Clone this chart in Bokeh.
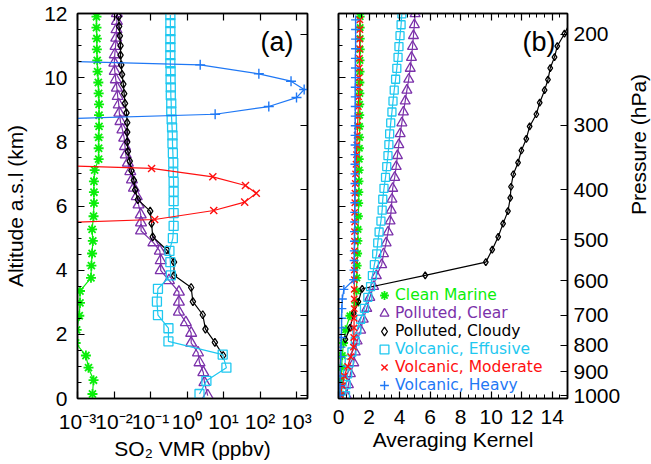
import math
from bokeh.plotting import figure
from bokeh.layouts import row
from bokeh.models import (LinearAxis, LogAxis, FixedTicker, SingleIntervalTicker,
                          CustomJSTickFormatter, Legend, LegendItem, Label)
from bokeh.embed import file_html
from bokeh.resources import INLINE

# ---------------- panel (a): SO2 VMR profiles (ppbv) versus altitude (km) ----------------
alt_clean_marine = [0.14, 0.57, 0.96, 1.34, 1.73, 2.14, 2.58, 2.98, 3.35, 3.76, 4.14, 4.52, 4.91,
                    5.27, 5.68, 6.09, 6.43, 6.77, 7.12, 7.46, 7.80, 8.14, 8.48, 8.83, 9.17, 9.51,
                    9.85, 10.19, 10.54, 10.88, 11.22, 11.56, 11.90]
vmr_clean_marine = [0.00257, 0.00275, 0.0020, 0.0017, 0.00089, 0.00095, 0.00112, 0.00117, 0.00117,
                    0.00234, 0.0024, 0.00251, 0.00263, 0.00251, 0.00275, 0.00282, 0.00282, 0.00282,
                    0.00295, 0.0038, 0.0038, 0.0038, 0.00389, 0.00389, 0.00389, 0.0038, 0.00372,
                    0.00355, 0.00347, 0.00339, 0.00339, 0.00331, 0.00331]

alt_polluted_clear = [0.09, 0.5, 0.81, 1.12, 1.43, 1.73, 2.04, 2.37, 2.7, 3.01, 3.32, 3.68, 3.99,
                      4.3, 4.6, 4.86, 5.23, 5.48, 5.73, 6.04, 6.3, 6.56, 6.82, 7.08, 7.34, 7.6,
                      7.86, 8.12, 8.38, 8.64, 8.9, 9.16, 9.42, 9.68, 9.94, 10.2, 10.46, 10.72,
                      10.98, 11.24, 11.5, 11.76, 12.0]
vmr_polluted_clear = [3.7, 3.0, 2.8, 2.2, 2.0, 1.3, 1.3, 0.93, 0.60, 0.60, 0.60, 0.32, 0.19, 0.19,
                      0.18, 0.12, 0.055, 0.055, 0.054, 0.047, 0.042, 0.035, 0.031, 0.028, 0.024,
                      0.021, 0.020, 0.019, 0.017, 0.015, 0.014, 0.0135, 0.0126, 0.012, 0.0112,
                      0.0105, 0.0102, 0.0105, 0.011, 0.0115, 0.0117, 0.012, 0.012]

alt_polluted_cloudy = [1.34, 1.75, 2.16, 2.61, 3.02, 3.46, 3.84, 4.25, 4.63, 5.04, 5.46, 5.84, 6.2,
                       6.5, 6.8, 7.1, 7.4, 7.7, 8.0, 8.3, 8.6, 8.9, 9.2, 9.5, 9.8, 10.1, 10.4,
                       10.7, 11.0, 11.3, 11.6, 11.9]
vmr_polluted_cloudy = [9.8, 5.8, 3.2, 2.7, 1.45, 1.3, 0.44, 0.44, 0.28, 0.115, 0.107, 0.098, 0.045,
                       0.038, 0.035, 0.030, 0.027, 0.024, 0.023, 0.023, 0.023, 0.022, 0.020, 0.019,
                       0.018, 0.0166, 0.0158, 0.0151, 0.0151, 0.0145, 0.0138, 0.0135]

alt_volcanic_effusive = [0.14, 0.55, 0.96, 1.37, 1.78, 2.19, 2.6, 3.02, 3.42, 3.84, 4.25, 4.6, 5.0,
                         5.38, 5.78, 6.15, 6.45, 6.75, 7.05, 7.35, 7.65, 7.95, 8.2, 8.45, 8.7,
                         8.95, 9.2, 9.45, 9.7, 9.95, 10.2, 10.45, 10.7, 10.95, 11.2, 11.45, 11.7,
                         11.95]
vmr_volcanic_effusive = [2.2, 3.4, 12.0, 9.5, 0.31, 0.31, 0.16, 0.15, 0.16, 0.36, 0.35, 0.33, 0.41,
                         0.43, 0.43, 0.43, 0.43, 0.43, 0.42, 0.42, 0.41, 0.40, 0.40, 0.39, 0.38,
                         0.37, 0.37, 0.36, 0.36, 0.355, 0.355, 0.35, 0.35, 0.35, 0.35, 0.35, 0.35,
                         0.35]

alt_volcanic_moderate = [5.32, 5.58, 5.86, 6.12, 6.4, 6.64, 6.91, 7.17, 7.43]
vmr_volcanic_moderate = [1.5e-8, 0.13, 5.4, 38.0, 79.0, 40.0, 5.1, 0.107, 3e-9]

alt_volcanic_heavy = [8.6, 8.86, 9.1, 9.38, 9.63, 9.89, 10.12, 10.4, 10.66]
vmr_volcanic_heavy = [1.6e-7, 5.9, 174.0, 1000.0, 1620.0, 708.0, 93.0, 2.3, 4e-9]

# ---------------- panel (b): averaging kernels versus altitude (km) ----------------
ak_clean_marine = [0.12, 0.15, 0.2, 0.25, 0.33, 0.46, 0.75, 1.15, 1.18, 1.2, 1.22, 1.25, 1.27, 1.28,
                   1.3, 1.32, 1.33, 1.34, 1.35, 1.36, 1.37, 1.38, 1.38, 1.39, 1.39, 1.40, 1.40,
                   1.41, 1.41, 1.42, 1.42, 1.42, 1.42]

alt_ak_clear_effusive = [0.09, 0.43, 0.77, 1.11, 1.45, 1.79, 2.13, 2.47, 2.81, 3.15, 3.49, 3.83,
                         4.17, 4.51, 4.85, 5.19, 5.53, 5.87, 6.21, 6.55, 6.89, 7.23, 7.57, 7.91,
                         8.25, 8.59, 8.93, 9.27, 9.61, 9.95, 10.29, 10.63, 10.97, 11.31, 11.65, 11.99]
ak_polluted_clear = [0.52, 0.65, 0.78, 1.0, 1.1, 1.22, 1.45, 1.62, 1.85, 2.05, 2.3, 2.48, 2.83,
                     2.95, 3.12, 3.25, 3.38, 3.45, 3.5, 3.55, 3.68, 3.78, 3.86, 3.95, 4.04, 4.15,
                     4.25, 4.37, 4.48, 4.6, 4.7, 4.78, 4.85, 4.91, 4.97, 5.02]
ak_volcanic_effusive = [0.46, 0.5, 0.6, 0.7, 0.88, 1.1, 1.2, 1.45, 1.7, 1.92, 2.1, 2.22, 2.35,
                        2.5, 2.57, 2.66, 2.78, 2.86, 2.9, 2.98, 3.08, 3.16, 3.24, 3.3, 3.35, 3.42,
                        3.5, 3.57, 3.65, 3.74, 3.82, 3.9, 3.96, 4.03, 4.1, 4.15]

alt_ak_polluted_cloudy = [1.84, 2.2, 2.66, 3.02, 3.42, 3.84, 4.25, 4.64, 5.04, 5.45, 5.84, 6.25,
                          6.6, 6.99, 7.35, 7.73, 8.09, 8.48, 8.86, 9.22, 9.61, 9.94, 10.3, 10.64,
                          10.98, 11.37, 11.75, 12.1]
ak_polluted_cloudy = [0.45, 0.75, 1.0, 1.3, 1.55, 5.68, 9.65, 10.07, 10.46, 10.78, 11.1, 11.25,
                      11.3, 11.45, 11.76, 11.98, 12.3, 12.52, 12.96, 13.18, 13.5, 13.72, 13.87,
                      14.15, 14.33, 14.8, 15.2, 15.6]

alt_ak_volcanic = [0.1, 0.4, 0.7, 1.0, 1.3, 1.6, 1.9, 2.2, 2.5, 2.8, 3.1, 3.4, 3.7, 4.0, 4.3, 4.6,
                   4.9, 5.2, 5.5, 5.8, 6.1, 6.4, 6.7, 7.0, 7.3, 7.6, 7.9, 8.2, 8.5, 8.8, 9.1, 9.4,
                   9.7, 10.0, 10.3, 10.6, 10.9, 11.2, 11.5, 11.8]
ak_volcanic_moderate = [0.13, 0.25, 0.38, 0.6, 0.8, 0.98, 1.0, 1.02, 1.02, 1.03, 1.03, 1.03, 1.04,
                        1.04, 1.05, 1.05, 1.05, 1.05, 1.06, 1.06, 1.07, 1.08, 1.1, 1.12, 1.15,
                        1.18, 1.2, 1.22, 1.25, 1.28, 1.3, 1.32, 1.33, 1.35, 1.36, 1.37, 1.38, 1.39,
                        1.4, 1.4]
ak_volcanic_heavy = [0.1, 0.1, 0.12, 0.13, 0.15, 0.16, 0.18, 0.2, 0.2, 0.22, 0.25, 0.35, 1.0,
                     1.02, 1.03, 1.04, 1.05, 1.05, 1.06, 1.06, 1.07, 1.07, 1.08, 1.08, 1.08, 1.09,
                     1.09, 1.09, 1.1, 1.1, 1.1, 1.1, 1.1, 1.11, 1.11, 1.11, 1.12, 1.12, 1.12, 1.12]

# ---------------- axes: tick labels ----------------
vmr_ticks = [1e-3, 1e-2, 1e-1, 1e0, 1e1, 1e2, 1e3]
pressure_ticks_hpa = [200, 300, 400, 500, 600, 700, 800, 900, 1000]
SCALE_HEIGHT_KM = 7.0
SURFACE_P_HPA = 1013.0
pressure_tick_alt = [SCALE_HEIGHT_KM * math.log(SURFACE_P_HPA / p) for p in pressure_ticks_hpa]

series_names = ["Clean Marine", "Polluted, Clear", "Polluted, Cloudy",
                "Volcanic, Effusive", "Volcanic, Moderate", "Volcanic, Heavy"]
colors = ["#0AEE0A", "#7B31AA", "#000000", "#1FC8F0", "#FF1010", "#1F78F5"]
markers = ["asterisk", "triangle", "diamond", "square", "x", "cross"]
marker_widths = [1.8, 1.3, 1.3, 1.3, 1.4, 1.4]

FONT = "Liberation Sans"
LEGEND_FONT = "DejaVu Sans"
TICK_FS = "21px"
LABEL_FS = "21px"


def empty_fmt():
    return CustomJSTickFormatter(code="return '';")


def style_axis(ax, show_labels=True):
    ax.axis_line_color = "black"
    ax.axis_line_width = 1.5
    ax.major_tick_in = 7
    ax.major_tick_out = 0
    ax.minor_tick_in = 4
    ax.minor_tick_out = 0
    ax.major_tick_line_color = "black"
    ax.minor_tick_line_color = "black"
    ax.major_tick_line_width = 1.2
    ax.minor_tick_line_width = 1.0
    ax.major_label_text_font = FONT
    ax.major_label_text_font_size = TICK_FS
    ax.major_label_text_color = "black"
    ax.axis_label_text_font = FONT
    ax.axis_label_text_font_size = LABEL_FS
    ax.axis_label_text_font_style = "normal"
    ax.axis_label_text_color = "black"
    if not show_labels:
        ax.formatter = empty_fmt()
        ax.major_label_text_font_size = "0px"
        ax.major_label_standoff = 0


def style_fig(p):
    p.xgrid.visible = False
    p.ygrid.visible = False
    p.outline_line_color = "black"
    p.outline_line_width = 1.5
    p.background_fill_color = "white"
    p.border_fill_color = "white"


# ---------------- panel (a) ----------------
pa = figure(width=322, height=462, x_axis_type="log", x_range=(1e-3, 2e3), y_range=(0, 12),
            output_backend="svg", toolbar_location=None, title=None,
            min_border_left=77, min_border_right=15, min_border_top=13, min_border_bottom=59)
style_fig(pa)

sup = {"-": "\u207b", "0": "\u2070", "1": "\u00b9", "2": "\u00b2", "3": "\u00b3"}
sup_js = "{" + ",".join("'%s':'%s'" % (k, v) for k, v in sup.items()) + "}"
pow_fmt = CustomJSTickFormatter(code="""
const sup = %s;
const e = Math.round(Math.log10(tick));
return '10' + String(e).split('').map(c => sup[c]).join('');
""" % sup_js)

xa = pa.xaxis[0]
xa.ticker = FixedTicker(ticks=vmr_ticks, minor_ticks=[])
style_axis(xa)
xa.formatter = pow_fmt
xa.axis_label = "SO\u2082 VMR (ppbv)"
xa.major_label_standoff = 11
xa.axis_label_standoff = 1

ya = pa.yaxis[0]
ya.ticker = SingleIntervalTicker(interval=2, num_minor_ticks=4)
style_axis(ya)
ya.axis_label = "Altitude a.s.l (km)"
ya.major_label_standoff = 10
ya.axis_label_standoff = 14

top_a = LogAxis(ticker=FixedTicker(ticks=vmr_ticks, minor_ticks=[]))
style_axis(top_a, show_labels=False)
pa.add_layout(top_a, "above")

right_a = LinearAxis(ticker=FixedTicker(ticks=pressure_tick_alt, minor_ticks=[]))
style_axis(right_a, show_labels=False)
pa.add_layout(right_a, "right")

panel_a = [
    (vmr_clean_marine, alt_clean_marine),
    (vmr_polluted_clear, alt_polluted_clear),
    (vmr_polluted_cloudy, alt_polluted_cloudy),
    (vmr_volcanic_effusive, alt_volcanic_effusive),
    (vmr_volcanic_moderate, alt_volcanic_moderate),
    (vmr_volcanic_heavy, alt_volcanic_heavy),
]
sizes_a = [10, 11, 8, 9, 10, 10]
for (xv, yv), c, m, s, lw in zip(panel_a, colors, markers, sizes_a, marker_widths):
    pa.line(xv, yv, line_color=c, line_width=1.2)
    pa.scatter(xv, yv, marker=m, size=s, fill_color=None, line_color=c, line_width=lw)

pa.add_layout(Label(x=216, y=357, x_units="screen", y_units="screen", text="(a)",
                    text_align="right", text_baseline="alphabetic", text_font=FONT,
                    text_font_size="27px", text_color="black"))

# ---------------- panel (b) ----------------
pb = figure(width=301, height=462, x_range=(0, 15), y_range=(0, 12),
            output_backend="svg", toolbar_location=None, title=None,
            min_border_left=16, min_border_right=55, min_border_top=13, min_border_bottom=59)
style_fig(pb)

xb = pb.xaxis[0]
xb.ticker = SingleIntervalTicker(interval=2, num_minor_ticks=4)
style_axis(xb)
xb.axis_label = "Averaging Kernel"
xb.major_label_standoff = 11
xb.axis_label_standoff = 1

yb = pb.yaxis[0]
yb.ticker = SingleIntervalTicker(interval=2, num_minor_ticks=4)
style_axis(yb, show_labels=False)

top_b = LinearAxis(ticker=SingleIntervalTicker(interval=2, num_minor_ticks=4))
style_axis(top_b, show_labels=False)
pb.add_layout(top_b, "above")

right_b = LinearAxis(ticker=FixedTicker(ticks=pressure_tick_alt, minor_ticks=[]))
style_axis(right_b)
right_b.major_label_overrides = {a: str(p) for a, p in zip(pressure_tick_alt, pressure_ticks_hpa)}
right_b.major_label_standoff = 6
pb.add_layout(right_b, "right")

panel_b = [
    (ak_clean_marine, alt_clean_marine),
    (ak_polluted_clear, alt_ak_clear_effusive),
    (ak_polluted_cloudy, alt_ak_polluted_cloudy),
    (ak_volcanic_effusive, alt_ak_clear_effusive),
    (ak_volcanic_moderate, alt_ak_volcanic),
    (ak_volcanic_heavy, alt_ak_volcanic),
]
sizes_b = [9, 10, 7, 8, 9, 9]
marker_renderers = []
for (xv, yv), c, m, s, lw in zip(panel_b, colors, markers, sizes_b, marker_widths):
    pb.line(xv, yv, line_color=c, line_width=1.2)
    r = pb.scatter(xv, yv, marker=m, size=s, fill_color=None, line_color=c, line_width=lw)
    marker_renderers.append(r)

pb.add_layout(Label(x=217, y=357, x_units="screen", y_units="screen", text="(b)",
                    text_align="right", text_baseline="alphabetic", text_font=FONT,
                    text_font_size="27px", text_color="black"))

legend_rows_bottom = [92, 74, 56, 38, 20, 2]
for name, c, r, yb0 in zip(series_names, colors, marker_renderers, legend_rows_bottom):
    lg = Legend(items=[LegendItem(label=name, renderers=[r])], location=(35, yb0),
                label_text_color=c, label_text_font=LEGEND_FONT, label_text_font_size="15.5px",
                glyph_width=22, glyph_height=22, label_height=18, label_standoff=0,
                padding=0, margin=0, spacing=0, border_line_alpha=0,
                background_fill_alpha=0)
    pb.add_layout(lg)

# ---------------- strip holding the right-hand axis title (reads bottom-to-top) ----------------
pc = figure(width=28, height=462, x_range=(0, 1), y_range=(0, 1),
            output_backend="svg", toolbar_location=None, title=None,
            x_axis_location=None, y_axis_location=None,
            min_border_left=0, min_border_right=0, min_border_top=0, min_border_bottom=0)
pc.xgrid.visible = False
pc.ygrid.visible = False
pc.outline_line_color = None
pc.background_fill_color = "white"
pc.border_fill_color = "white"
pc.add_layout(Label(x=15, y=254, x_units="screen", y_units="screen", text="Pressure (hPa)",
                    angle=math.pi / 2, text_align="center", text_baseline="middle",
                    text_font=FONT, text_font_size=LABEL_FS, text_color="black"))

layout = row(pa, pb, pc, spacing=0)
open("out.html", "w", encoding="utf-8").write(file_html(layout, INLINE))
